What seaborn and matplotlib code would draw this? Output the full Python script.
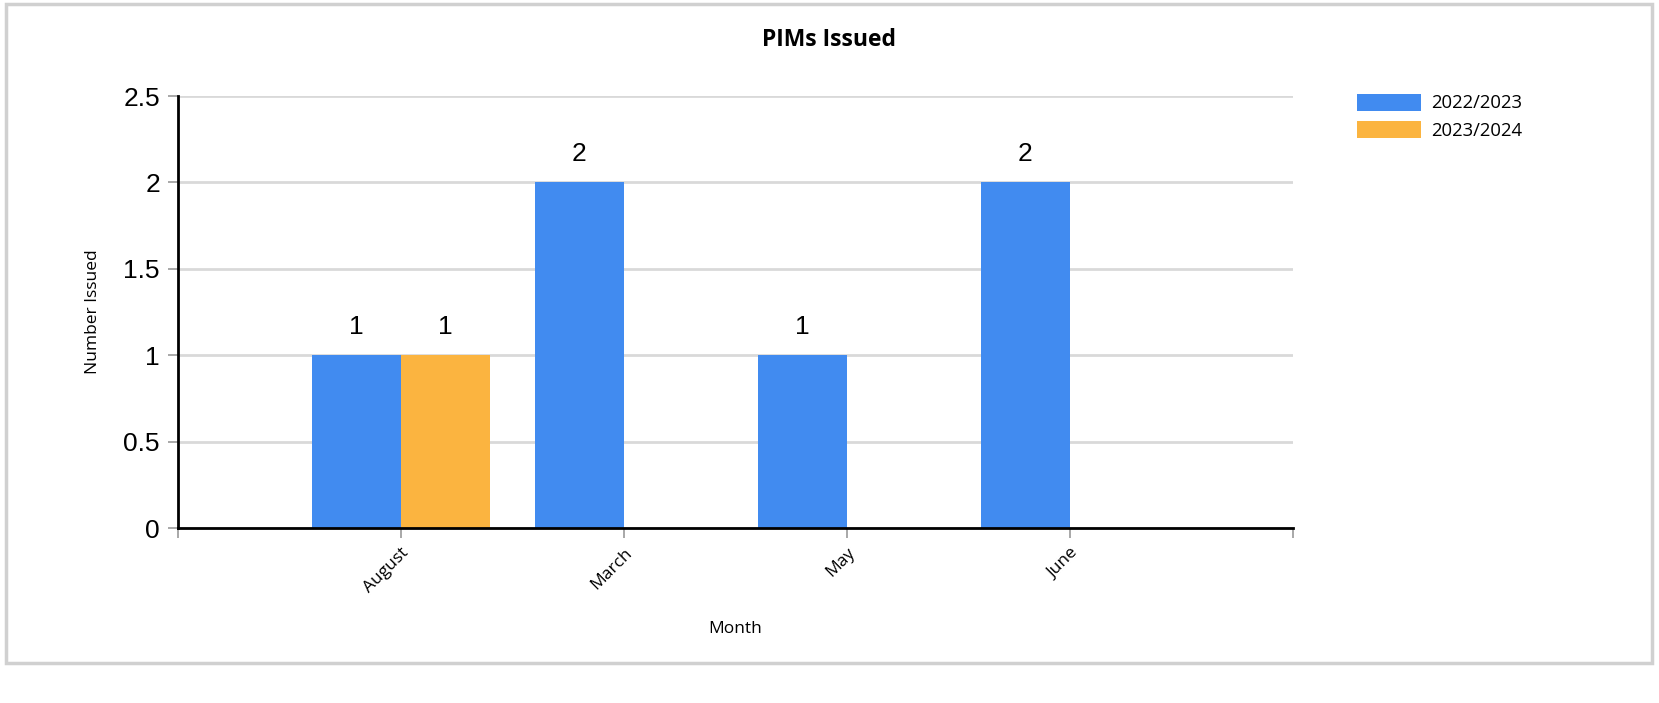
import matplotlib
matplotlib.use("Agg")
import matplotlib.pyplot as plt
import seaborn as sns
import pandas as pd
import numpy as np
from matplotlib.patches import Rectangle

months = ["August", "March", "May", "June"]
season_2223 = [1, 2, 1, 2]
season_2324 = [1, np.nan, np.nan, np.nan]
seasons = ["2022/2023", "2023/2024"]
colors = ["#418BF0", "#FBB440"]

df = pd.DataFrame({
    "Month": months * 2,
    "Season": [seasons[0]] * 4 + [seasons[1]] * 4,
    "Count": season_2223 + season_2324,
})

sns.set_theme(style="white")
plt.rcParams["font.family"] = ["Open Sans", "DejaVu Sans"]
plt.rcParams["text.color"] = "black"
plt.rcParams["axes.labelcolor"] = "black"
plt.rcParams["xtick.labelcolor"] = "black"
plt.rcParams["ytick.labelcolor"] = "black"

W, H = 1659, 703
fig = plt.figure(figsize=(W / 100, H / 100), dpi=100)
ax = fig.add_axes([178 / W, 1 - 528 / H, (1293 - 178) / W, (528 - 96) / H])

sns.barplot(data=df, x="Month", y="Count", hue="Season", order=months,
            hue_order=seasons, palette=colors, width=0.8, dodge=True,
            saturation=1, ax=ax, legend=True, linewidth=0)

for c in ax.containers:
    ax.bar_label(c, fmt="%g", padding=12, fontsize=19, family="Liberation Sans",
                 color="black")

ax.set_xlim(-1, len(months))
ax.set_ylim(0, 2.5)
ax.set_yticks([0, 0.5, 1, 1.5, 2, 2.5])
ax.set_yticklabels(["0", "0.5", "1", "1.5", "2", "2.5"], fontsize=19, family="Liberation Sans")
ax.set_xticks(range(-1, len(months) + 1))
ax.set_xticklabels([""] + months + [""], rotation=45, ha="right",
                   rotation_mode="anchor", fontsize=12.5)
ax.tick_params(axis="both", which="both", length=7, width=1.2, color="#999999",
               left=True, bottom=True)
ax.tick_params(axis="y", pad=6)
ax.tick_params(axis="x", pad=5)
ax.yaxis.grid(True, color="#d9d9d9", linewidth=2)
ax.set_axisbelow(True)
for s in ["top", "right"]:
    ax.spines[s].set_visible(False)
for s in ["left", "bottom"]:
    ax.spines[s].set_color("black")
    ax.spines[s].set_linewidth(2)
    ax.spines[s].set_zorder(5)

ax.set_xlabel("Month", fontsize=12.5, labelpad=18)
ax.set_ylabel("Number Issued", fontsize=12.5, labelpad=16)

fig.text(0.5, 1 - 40 / H, "PIMs Issued", ha="center", va="center",
         fontsize=16.5, fontweight="bold")

handles, labels = ax.get_legend_handles_labels()
ax.legend(handles, labels, loc="upper left", bbox_to_anchor=(1340 / W, 1 - 77 / H),
          bbox_transform=fig.transFigure, frameon=False, fontsize=13.3,
          handlelength=3.5, handleheight=1.05, labelspacing=0.45, handletextpad=0.55)

fig.patches.append(Rectangle((6 / W, 1 - 663 / H), (1652 - 6) / W, (663 - 4) / H,
                             transform=fig.transFigure, fill=False,
                             edgecolor="#d0d0d0", linewidth=2.5))

fig.savefig("out.png", dpi=100)
